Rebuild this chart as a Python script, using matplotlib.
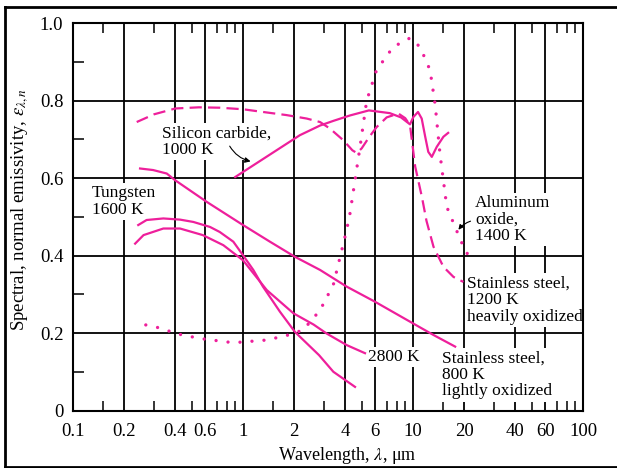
import matplotlib
matplotlib.use("Agg")
import matplotlib.pyplot as plt
from matplotlib.lines import Line2D

plt.rcParams['font.family'] = ['Liberation Serif', 'DejaVu Serif']
plt.rcParams['mathtext.fontset'] = 'stix'

# ---------------- data ----------------
ss800_x = [0.248, 0.296, 0.356, 0.398, 0.611, 1.0, 1.44, 2.02, 2.84, 4.07, 5.97, 10.0, 13.2, 17.7]
ss800_y = [0.625, 0.621, 0.612, 0.595, 0.539, 0.479, 0.436, 0.397, 0.363, 0.320, 0.281, 0.225, 0.195, 0.165]

wA_x = [0.242, 0.271, 0.34, 0.426, 0.51, 0.64, 0.73, 0.877, 1.0, 1.15, 1.31, 1.65, 2.02, 2.8, 3.4, 4.56]
wA_y = [0.479, 0.492, 0.496, 0.493, 0.487, 0.474, 0.461, 0.436, 0.401, 0.363, 0.320, 0.255, 0.203, 0.143, 0.100, 0.061]

wB_x = [0.232, 0.26, 0.34, 0.426, 0.58, 0.766, 1.0, 1.38, 1.98, 2.6, 3.1, 4.07, 5.22]
wB_y = [0.431, 0.453, 0.470, 0.470, 0.453, 0.427, 0.388, 0.311, 0.251, 0.222, 0.199, 0.169, 0.148]

al_x = [0.268, 0.333, 0.4, 0.558, 0.877, 1.38, 1.85, 2.26, 2.84, 3.4, 4.07, 4.26, 4.56, 4.88, 5.34,
        6.1, 7.65, 9.6, 11.0, 12.6, 13.5, 14.4, 15.8, 18.0, 20.2, 22.6]
al_y = [0.221, 0.212, 0.199, 0.186, 0.175, 0.182, 0.195, 0.208, 0.259, 0.325, 0.466, 0.509, 0.595,
        0.681, 0.800, 0.879, 0.939, 0.962, 0.939, 0.879, 0.790, 0.664, 0.526, 0.466, 0.414, 0.384]

ss1200_x = [0.237, 0.3, 0.4, 0.55, 0.73, 1.0, 1.31, 1.8, 2.37, 2.84, 3.25, 3.89, 4.4, 4.67, 4.99, 5.5,
            6.11, 7.0, 8.2, 9.0, 9.6, 10.3, 11.3, 12.0, 13.2, 15.1, 17.3, 19.8]
ss1200_y = [0.745, 0.765, 0.780, 0.783, 0.782, 0.778, 0.771, 0.763, 0.754, 0.745, 0.728, 0.698, 0.672,
            0.665, 0.677, 0.705, 0.732, 0.757, 0.767, 0.755, 0.737, 0.630, 0.550, 0.490, 0.423, 0.371,
            0.345, 0.332]

sic_x = [0.9, 2.16, 2.84, 3.4, 4.26, 5.5, 7.3, 8.5, 9.6, 10.05, 10.7, 11.25, 11.8, 12.3, 12.9, 13.8, 15.1, 16.1]
sic_y = [0.603, 0.711, 0.736, 0.748, 0.762, 0.775, 0.768, 0.757, 0.739, 0.758, 0.771, 0.754, 0.707,
         0.668, 0.655, 0.681, 0.707, 0.717]

xtick_vals = [0.1, 0.2, 0.4, 0.6, 1, 2, 4, 6, 10, 20, 40, 60, 100]
xtick_labels = ['0.1', '0.2', '0.4', '0.6', '1', '2', '4', '6', '10', '20', '40', '60', '100']
xminor_vals = [0.15, 0.3, 0.5, 0.7, 0.8, 0.9, 1.5, 3, 5, 7, 8, 9, 15, 30, 50, 70, 80, 90]
ytick_vals = [0, 0.2, 0.4, 0.6, 0.8, 1.0]
ytick_labels = ['0', '0.2', '0.4', '0.6', '0.8', '1.0']
yminor_vals = [0.1, 0.3, 0.5, 0.7, 0.9]
vgrid_vals = [0.2, 0.4, 0.6, 1, 2, 4, 6, 10, 20, 40, 60]
hgrid_vals = [0.2, 0.4, 0.6, 0.8]

# ---------------- figure ----------------
W, H = 617, 468
fig = plt.figure(figsize=(W / 100, H / 100), dpi=100)
ax = fig.add_axes([73 / W, 1 - 410.5 / H, (583 - 73) / W, (410.5 - 23.3) / H])
ax.set_xscale('log')
ax.set_xlim(0.1, 100)
ax.set_ylim(0, 1.0)

col = '#ee1f9b'
for v in vgrid_vals:
    ax.axvline(v, color='black', lw=1.3, zorder=1)
for v in hgrid_vals:
    ax.axhline(v, color='black', lw=1.3, zorder=3)

ax.plot(ss800_x, ss800_y, color=col, lw=1.6, zorder=4)
ax.plot(wA_x, wA_y, color=col, lw=1.6, zorder=4)
ax.plot(wB_x, wB_y, color=col, lw=1.6, zorder=4)
ax.plot(sic_x, sic_y, color=col, lw=1.6, zorder=4)
ax.plot(ss1200_x, ss1200_y, color=col, lw=1.6, ls=(0, (5.5, 2.8)), zorder=4)
ax.plot(al_x, al_y, color=col, lw=2.4, ls=(0, (0.01, 3.6)), dash_capstyle='round',
        solid_capstyle='round', zorder=4)

box = dict(facecolor='white', edgecolor='none', pad=1.5)
fs = 12.5
kw = dict(fontsize=fs, zorder=2, linespacing=1.05, bbox=box)
ax.text(0.332, 0.694, 'Silicon carbide,\n1000 K', ha='left', va='center', **kw)
ax.text(0.129, 0.540, 'Tungsten\n1600 K', ha='left', va='center', **kw)
ax.text(23.2, 0.494, 'Aluminum\noxide,\n1400 K', ha='left', va='center', **kw)
ax.text(20.7, 0.285, 'Stainless steel,\n1200 K\nheavily oxidized', ha='left', va='center', **kw)
ax.text(5.46, 0.139, '2800 K', ha='left', va='center', **kw)
ax.text(14.8, 0.092, 'Stainless steel,\n800 K\nlightly oxidized', ha='left', va='center', **kw)

ax.annotate('', xy=(1.15, 0.642), xytext=(0.82, 0.689), zorder=5,
            arrowprops=dict(arrowstyle='-|>', color='black', lw=0.8,
                            mutation_scale=8, connectionstyle='arc3,rad=0.25'))
ax.annotate('', xy=(18.1, 0.461), xytext=(22.6, 0.491), zorder=5,
            arrowprops=dict(arrowstyle='-|>', color='black', lw=0.8,
                            mutation_scale=7, connectionstyle='arc3,rad=0.2'))

# ticks
ax.set_xticks(xtick_vals)
ax.set_xticklabels(xtick_labels)
ax.set_xticks(xminor_vals, minor=True)
ax.xaxis.set_minor_formatter(plt.NullFormatter())
ax.set_yticks(ytick_vals)
ax.set_yticklabels(ytick_labels)
ax.set_yticks(yminor_vals, minor=True)
ax.tick_params(axis='x', which='major', length=0, pad=9, labelsize=13.5)
ax.tick_params(axis='x', which='minor', direction='in', length=7, width=1.1, top=True, bottom=True)
ax.tick_params(axis='y', which='major', length=0, pad=7, labelsize=13.5)
ax.tick_params(axis='y', which='minor', direction='in', length=8, width=1.1, left=True, right=False)
for s in ax.spines.values():
    s.set_linewidth(1.5)

ax.set_ylabel(r'Spectral, normal emissivity, $\varepsilon_{\lambda,n}$', fontsize=13.5)
ax.yaxis.set_label_coords(-0.082, 0.52)
fig.text(347 / W, 1 - 445 / H, r'Wavelength, $\lambda$, μm', ha='center', va='top', fontsize=13)

# outer frame
fig.add_artist(Line2D([5 / W, 1], [1 - 6.5 / H, 1 - 6.5 / H], color='black', lw=2, transform=fig.transFigure))
fig.add_artist(Line2D([5 / W, 5 / W], [1 - 6.5 / H, 1 - 466.5 / H], color='black', lw=2, transform=fig.transFigure))
fig.add_artist(Line2D([5 / W, 1], [1 - 466.5 / H, 1 - 466.5 / H], color='black', lw=2, transform=fig.transFigure))

fig.savefig('out.png', dpi=100)
